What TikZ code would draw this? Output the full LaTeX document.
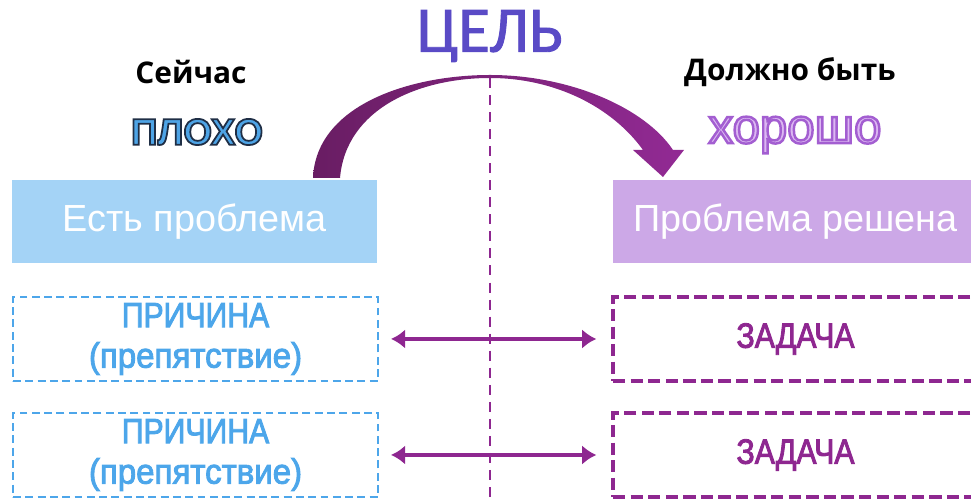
\documentclass[tikz,border=0pt]{standalone}
\usepackage{fontspec}
\setmainfont{Liberation Sans}
\newfontfamily\carlito{Carlito}
\newfontfamily\headsans{Open Sans}
\newfontfamily\narrowsans[FakeStretch=0.86]{Liberation Sans}
\newfontfamily\causesans[FakeStretch=0.94]{Liberation Sans}
\usetikzlibrary{arrows.meta,positioning}
\definecolor{goalviolet}{HTML}{5A4BC6}
\definecolor{badblue}{HTML}{4EA4E6}
\definecolor{goodlilac}{HTML}{DCB8F2}
\definecolor{nowblue}{HTML}{A4D3F6}
\definecolor{donelilac}{HTML}{CCA8E7}
\definecolor{causeblue}{HTML}{4DA6EA}
\definecolor{taskpurple}{HTML}{8E2790}
\definecolor{arcdark}{HTML}{691D63}
\definecolor{arclight}{HTML}{922A94}
% outlined text: fill in the node colour, stroke in the given rgb
\newcommand\outlined[3]{\special{pdf:literal direct 2 Tr #1 w #2 RG}#3\special{pdf:literal direct 0 Tr}}
\tikzset{
  heading/.style={font=\headsans\bfseries\fontsize{17}{20}\selectfont,text=black},
  problem/.style={rectangle,fill=#1,minimum width=7.3cm,minimum height=1.66cm,
    text=white,font=\fontsize{21.5}{24}\selectfont,inner sep=0pt},
  problem/.default={nowblue},
  cause/.style={rectangle,draw=causeblue,line width=1.2pt,dash pattern=on 4.5pt off 2.5pt,
    minimum width=7.3cm,minimum height=1.68cm,text=causeblue,align=center,
    font=\narrowsans\fontsize{20}{23}\selectfont,inner sep=0pt},
  task/.style={rectangle,draw=taskpurple,line width=2pt,dash pattern=on 7pt off 3pt,
    minimum width=7.3cm,minimum height=1.68cm,text=taskpurple,
    font=\narrowsans\fontsize{20}{23}\selectfont},
  dblarrow/.style={{Latex[length=8pt,width=11pt]}-{Latex[length=8pt,width=11pt]},
    line width=2.4pt,taskpurple,shorten <=0.24cm,shorten >=0.3cm},
  midline/.style={taskpurple,line width=1.4pt,dash pattern=on 5.7pt off 4pt},
}
\begin{document}
\begin{tikzpicture}[x=0.02cm,y=-0.02cm]
  \path[use as bounding box] (0,0) rectangle (971,502);
  \clip (0,0) rectangle (971,502);
  % titles
  \node[font=\carlito\fontsize{37}{40}\selectfont,text=goalviolet] (goal) at (490,36)
    {\outlined{0.5}{0.35 0.29 0.78}{ЦЕЛЬ}};
  \node[heading] (now) at (191,72) {Сейчас};
  \node[heading] (must) at (790,72) {Должно быть};
  \node[font=\bfseries\fontsize{21}{24}\selectfont,text=badblue] (bad) at (197,132)
    {\outlined{1.0}{0.12 0.18 0.27}{ПЛОХО}};
  \node[font=\fontsize{28}{30}\selectfont,text=goodlilac] (good) at (795,135)
    {\outlined{1.4}{0.64 0.37 0.82}{хорошо}};
  % middle line
  \coordinate (midtop) at (490,78);
  \coordinate (midbot) at (490,502);
  \draw[midline] (midtop) -- (midbot);
  % state boxes
  \node[problem=nowblue] (state) at (194.5,221.5) {Есть проблема};
  \node[problem=donelilac] (solved) at (795.5,221.5) {Проблема решена};
  % goal arc
  \shade[left color=arcdark,right color=arclight]
    (313,178) .. controls (316,105) and (410,75) .. (490,75)
    .. controls (570,75) and (645,108) .. (673,150) -- (684,150) -- (663,177)
    -- (633,150) -- (643,150) .. controls (612,107) and (555,78) .. (490,78)
    .. controls (420,78) and (346,108) .. (340,178) -- cycle;
  % causes and tasks
  \node[cause] (cause1) at (195.5,339)
    {\outlined{0.5}{0.30 0.65 0.92}{ПРИЧИНА\\{\causesans(препятствие)}}};
  \node[cause] (cause2) at (195.5,455)
    {\outlined{0.5}{0.30 0.65 0.92}{ПРИЧИНА\\{\causesans(препятствие)}}};
  \node[task] (task1) at (795.5,339) {\outlined{0.5}{0.557 0.153 0.565}{ЗАДАЧА}};
  \node[task] (task2) at (795.5,455) {\outlined{0.5}{0.557 0.153 0.565}{ЗАДАЧА}};
  \draw[dblarrow] (cause1.east) -- (task1.west);
  \draw[dblarrow] (cause2.east) -- (task2.west);
\end{tikzpicture}
\end{document}
